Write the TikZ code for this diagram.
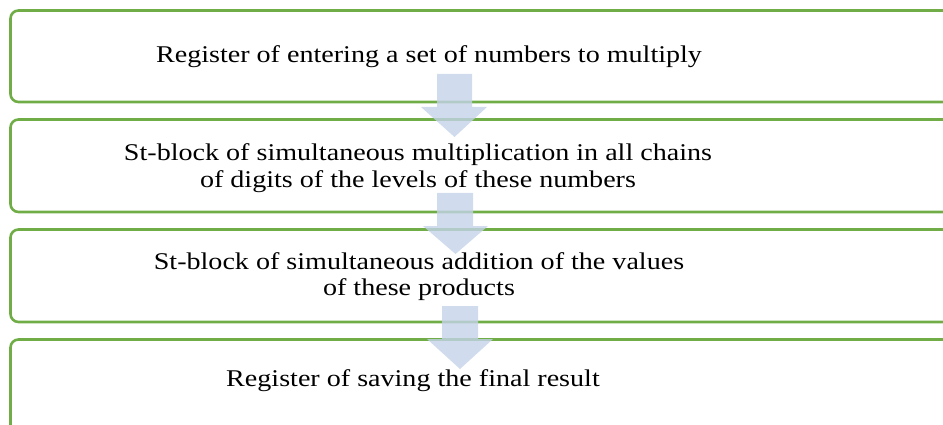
\documentclass[tikz,border=0pt]{standalone}
\usepackage{fontspec}
\setmainfont{Liberation Serif}[FakeStretch=1.17]
\definecolor{boxgreen}{RGB}{112,173,71}
\definecolor{arrowblue}{RGB}{196,211,233}
\begin{document}
\begin{tikzpicture}[x=1pt,y=-1pt,
  stagebox/.style={draw=boxgreen,line width=2.6pt,rounded corners=8pt},
  stagetext/.style={font=\fontsize{24}{26}\selectfont,align=center,inner sep=0pt,anchor=base},
  blockarrow/.style={fill=arrowblue,fill opacity=0.8,draw=none}]
\useasboundingbox (0,0) rectangle (943,425);
\clip (0,0) rectangle (943,425);
% boxes
\draw[stagebox] (10.5,10.5) rectangle (980,102);
\draw[stagebox] (10.5,119.5) rectangle (980,212);
\draw[stagebox] (10.5,229.5) rectangle (980,322);
\draw[stagebox] (10.5,339.5) rectangle (980,480);
% texts (anchor = baseline of last line)
\node[stagetext] (t1) at (429,63) {Register of entering a set of numbers to multiply};
\node[stagetext] (t2) at (418,187) {St-block of simultaneous multiplication in all chains\\of digits of the levels of these numbers};
\node[stagetext] (t3) at (419,295) {St-block of simultaneous addition of the values\\of these products};
\node[stagetext] (t4) at (413,386) {Register of saving the final result};
% block arrows
\fill[blockarrow] (437,74) -- (472,74) -- (472,107) -- (487,107) -- (454.5,137) -- (421,107) -- (437,107) -- cycle;
\fill[blockarrow] (437,193) -- (473,193) -- (473,226) -- (488,226) -- (455.5,254) -- (423,226) -- (437,226) -- cycle;
\fill[blockarrow] (442,306) -- (478,306) -- (478,339) -- (493,339) -- (460,369) -- (427,339) -- (442,339) -- cycle;
\end{tikzpicture}
\end{document}
